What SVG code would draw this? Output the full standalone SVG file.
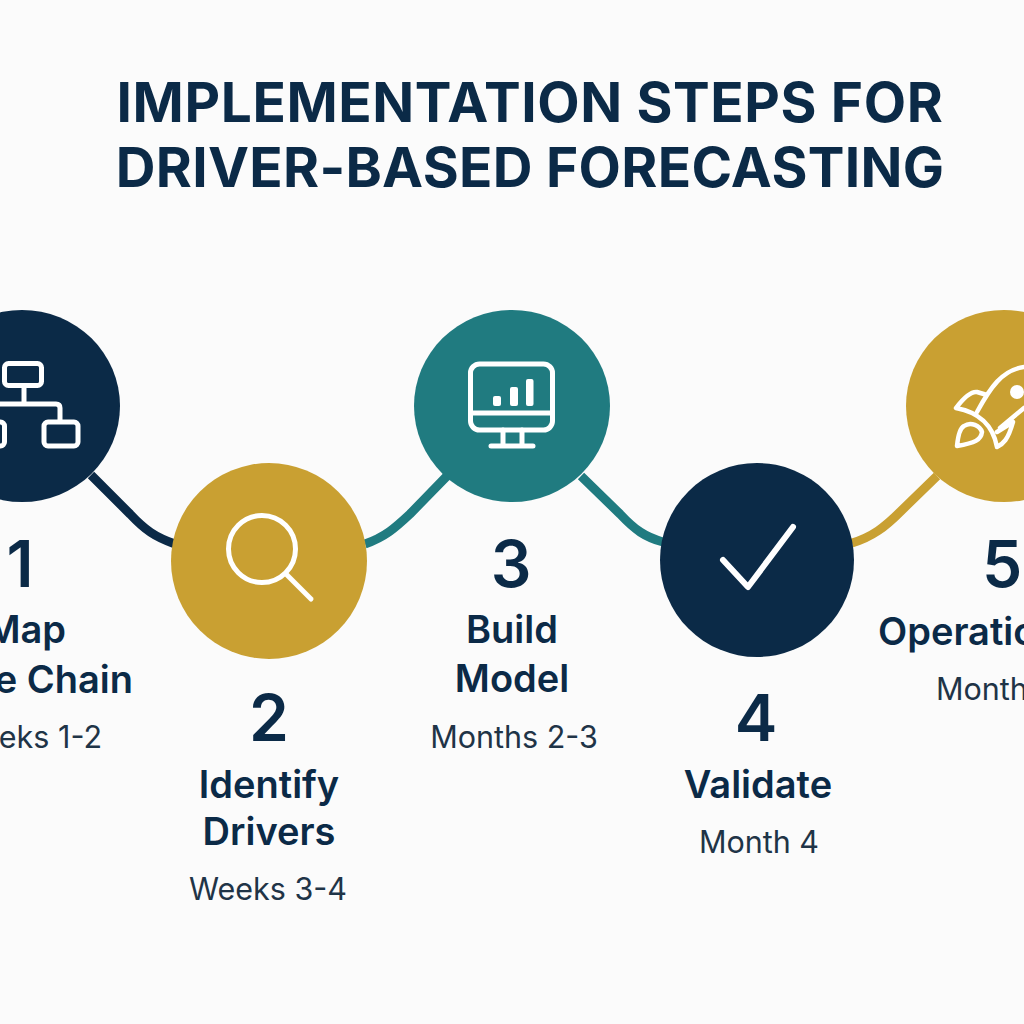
<svg xmlns="http://www.w3.org/2000/svg" width="1024" height="1024" viewBox="0 0 1024 1024">
<style>
.t{font-family:Inter,"Liberation Sans",sans-serif;fill:#0b2a47;text-anchor:middle}
.title{font-size:55px;font-weight:700;letter-spacing:.6px}
.n{font-size:64px;font-weight:600}
.h{font-size:38px;font-weight:600}
.s{font-size:30.5px;font-weight:400;fill:#1f3447}
.e{text-anchor:end}
.b{text-anchor:start}
.i{fill:none;stroke:#fff;stroke-width:5;stroke-linecap:round;stroke-linejoin:round}
.f{fill:#fff}
.c{fill:none;stroke-width:9}
.navy{fill:#0b2a47}.gold{fill:#c9a032}.teal{fill:#207b80}
</style>
<rect width="1024" height="1024" fill="#fbfbfb"/>
<g id="title">
<text class="t title" x="530" y="122">IMPLEMENTATION STEPS FOR</text>
<text class="t title" x="530" y="187" style="letter-spacing:.3px">DRIVER-BASED FORECASTING</text>
</g>
<g id="connectors">
<path class="c" stroke="#0b2a47" d="M91 475L130 514C145 530 155 537 175 544"/>
<path class="c" stroke="#207b80" d="M365 544C385 537 395 528 410 514L447 476"/>
<path class="c" stroke="#207b80" d="M581 476L620 514C635 530 645 537 663 542"/>
<path class="c" stroke="#c9a032" d="M852 543C872 537 885 527 900 512L937 476"/>
</g>
<g id="node1">
<ellipse class="navy" cx="22" cy="406" rx="98" ry="96"/>
<g class="i">
<rect x="4.5" y="363.5" width="37" height="22" rx="4"/>
<path d="M24 388V404M-10 404H56Q60 404 60 408V421"/>
<rect x="44" y="422" width="34" height="24" rx="4"/>
<rect x="-30" y="422" width="34.500" height="24" rx="4"/>
</g>
<text class="t n" x="20" y="587">1</text>
<text class="t h e" x="66" y="643">Map</text>
<text class="t h e" x="133" y="693">e Chain</text>
<text class="s t e" x="102" y="748">eks 1-2</text>
</g>
<g id="node2">
<circle class="gold" cx="269" cy="561" r="98"/>
<g class="i">
<circle cx="262" cy="549" r="33.500"/>
<path d="M287 575L311 599"/>
</g>
<text class="t n" x="269" y="741">2</text>
<text class="t h" x="269" y="798">Identify</text>
<text class="t h" x="269" y="845">Drivers</text>
<text class="s t" x="268" y="900">Weeks 3-4</text>
</g>
<g id="node3">
<ellipse class="teal" cx="512" cy="406" rx="98" ry="96"/>
<g class="i">
<rect x="470.500" y="364" width="82" height="66" rx="9"/>
<path d="M470.500 413H552.500M503 430V446M522 430V446M491 446H533"/>
</g>
<rect class="f" x="493" y="396" width="8" height="10" rx="2"/>
<rect class="f" x="510" y="387" width="8" height="19" rx="2"/>
<rect class="f" x="526" y="379" width="7.500" height="27" rx="2"/>
<text class="t n" x="511" y="587">3</text>
<text class="t h" x="512" y="643">Build</text>
<text class="t h" x="512" y="692">Model</text>
<text class="s t" x="514" y="748">Months 2-3</text>
</g>
<g id="node4">
<circle class="navy" cx="757" cy="560" r="97"/>
<path class="i" d="M723 560L748 587L793 527" style="stroke-width:6"/>
<text class="t n" x="756" y="741">4</text>
<text class="t h" x="758" y="798">Validate</text>
<text class="s t" x="759" y="853">Month 4</text>
</g>
<g id="node5">
<ellipse class="gold" cx="1004" cy="406" rx="98" ry="96"/>
<g class="i" style="stroke-width:4.500">
<path d="M1024 367C1002 370 990 388 977 412M956 408C962 400 970 391 977 392L987 395M956 408C978 412 993 425 997 447C1003 444 1008 440 1013 422L997 432M1000 428L1024 408"/>
<path d="M957 446C958 436 960 428 964 426C971 421 980 426 982 432C981 440 975 443 957 446Z"/>
</g>
<circle class="f" cx="1017" cy="392" r="7"/>
<text class="t n" x="1002" y="587">5</text>
<text class="t h b" x="878" y="645">Operatio</text>
<text class="s t b" x="936" y="700">Month</text>
</g>
</svg>
